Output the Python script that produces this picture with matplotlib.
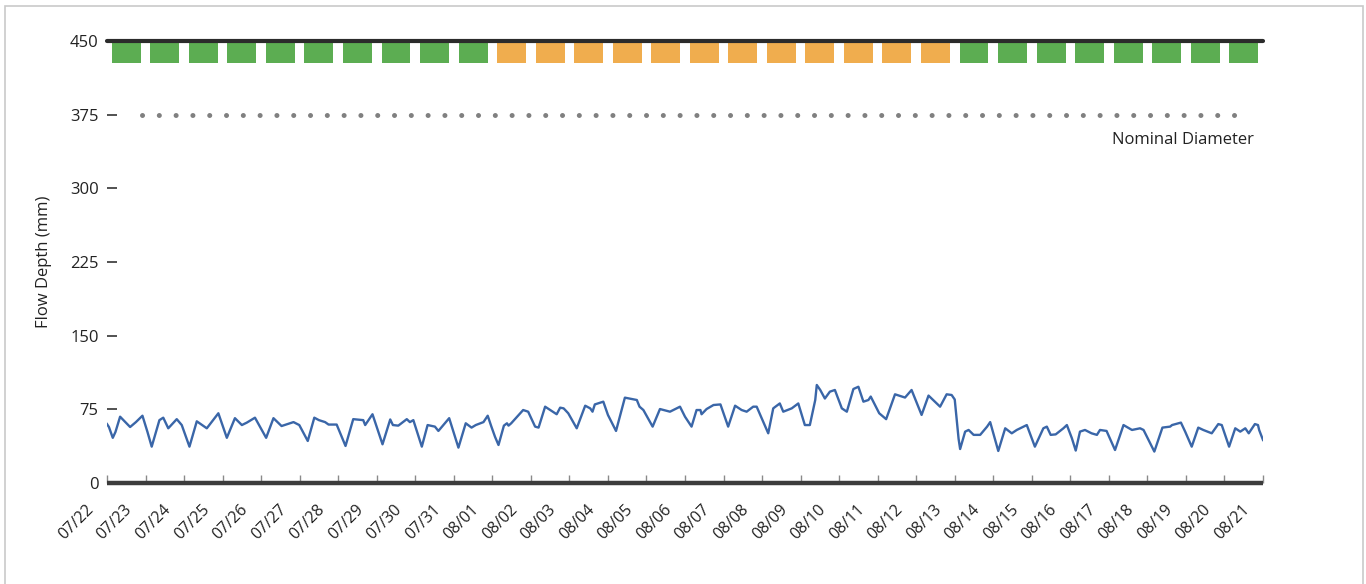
import matplotlib
matplotlib.use("Agg")
import matplotlib.pyplot as plt
import matplotlib.transforms as mtransforms
from matplotlib.patches import Rectangle
import numpy as np
import pandas as pd

plt.rcParams['font.family'] = ['Open Sans', 'DejaVu Sans']

# days since 07/22 00:00 and flow depth (mm)
t_days = [0.0, 0.05, 0.15, 0.22, 0.34, 0.45, 0.6, 0.75, 0.92, 1.05, 1.16, 1.36, 1.46, 1.59, 1.81, 1.94,
          2.14, 2.33, 2.59, 2.89, 3.11, 3.32, 3.5, 3.63, 3.84, 4.13, 4.32, 4.53, 4.84,
          4.99, 5.21, 5.38, 5.5, 5.66, 5.75, 5.96, 6.19, 6.39, 6.65, 6.7, 6.89, 7.15, 7.35, 7.42,
          7.56, 7.78, 7.86, 7.95, 8.17, 8.32, 8.51, 8.6, 8.88, 9.12, 9.31, 9.46, 9.57, 9.77, 9.88,
          9.97, 10.07, 10.16,
          10.30, 10.38, 10.42, 10.49, 10.80, 10.93, 11.11, 11.2, 11.37, 11.67, 11.76, 11.85, 11.97,
          12.19, 12.41, 12.54, 12.60, 12.66, 12.88, 13.0, 13.21, 13.44, 13.75, 13.82, 13.92, 14.16,
          14.35, 14.61, 14.87, 15.0, 15.17,
          15.30, 15.40, 15.43, 15.56, 15.74, 15.92, 16.12, 16.30, 16.47, 16.6, 16.77, 16.86, 17.16,
          17.29, 17.46, 17.55, 17.77, 17.94, 18.11, 18.24, 18.38, 18.42, 18.51, 18.63, 18.76, 18.89,
          19.07, 19.2, 19.37, 19.50, 19.63, 19.76, 19.82, 20.04, 20.22,
          20.45, 20.71, 20.88, 21.14, 21.32, 21.53, 21.62, 21.79, 21.92, 22.0, 22.1, 22.14, 22.27,
          22.36, 22.49, 22.66, 22.84, 22.92, 23.13, 23.31, 23.48, 23.61, 23.87, 24.08, 24.30, 24.39,
          24.49, 24.62, 24.82, 24.91, 25.04, 25.14,
          25.25, 25.38, 25.55, 25.69, 25.77, 25.94, 26.16, 26.38, 26.6, 26.81, 26.9, 27.18, 27.39,
          27.59, 27.64, 27.87, 27.98, 28.15, 28.32, 28.45, 28.67, 28.84, 28.93, 29.12, 29.28, 29.41,
          29.54, 29.63, 29.79, 29.87, 29.9, 30.0]
depth = [60, 57, 46, 52, 67.5, 63, 57, 62, 68.5, 52, 37, 64, 66.5, 55.7, 65, 59,
         37, 62.8, 55.7, 71, 46, 66, 59, 61.5, 66.5, 46, 66, 58, 62,
         59, 42.8, 66.5, 64, 62, 59.5, 59.5, 37.7, 65, 64, 59, 70, 39.4, 64.7, 59,
         58.4, 65, 62, 64, 37, 59, 57.4, 53, 66, 36, 60.8, 56.4, 59, 62, 68.5,
         58, 47, 38.7,
         58.4, 60.8, 58.4, 60.8, 74.3, 72.6, 57.4, 56.4, 77.7, 70, 76.7, 76, 71,
         55.7, 78.7, 76, 72.6, 80, 82.8, 69.3, 53, 86.9, 84.5, 77.7, 74.3, 57.4,
         75.3, 72.6, 77.7, 67.5, 57.4,
         74.3, 74.3, 70, 75.3, 79.4, 80, 57.4, 78.7, 74.3, 72.6, 77.7, 77.7, 50.6,
         76, 81, 72.6, 76, 81, 59, 59, 84.5, 99.8, 94.7, 86, 93, 94.7,
         76, 72.6, 95.7, 98, 82.8, 84.5, 88, 71, 65,
         90.3, 87, 94.7, 69.3, 89, 81, 77.7, 90.3, 89.6, 85, 45, 34.6, 52.3,
         54, 49, 49, 57.4, 62, 32.6, 55.7, 50.6, 54, 59, 37, 55.7, 57.4,
         49, 49.5, 55.7, 59, 45.6, 33,
         52.3, 54, 50.6, 49, 54, 53, 33.6, 59, 54, 55.7, 54, 32, 56.4,
         57.4, 59, 61.5, 52.3, 37, 56.4, 54, 50.6, 60, 59, 37, 55.7, 52.3,
         55.7, 50.6, 60, 59, 54, 43.8]

# daily status squares along the top
day_status = ['ok'] * 10 + ['warn'] * 12 + ['ok'] * 8
status_colors = {'ok': '#5cad52', 'warn': '#f0ad4e'}

nominal_diameter = 375
date_labels = list(pd.date_range('2019-07-22', '2019-08-21').strftime('%m/%d'))
y_ticks = [0, 75, 150, 225, 300, 375, 450]

fig = plt.figure(figsize=(13.66, 5.84), dpi=100)
ax = fig.add_axes([107 / 1366, 1 - 483 / 584, 1156 / 1366, 442 / 584])

# light frame round the whole picture
fig.patches.append(Rectangle((5 / 1366, -0.05), 1358 / 1366, 1.04, transform=fig.transFigure,
                             fill=False, edgecolor='#c9c9c9', linewidth=1.2))

ax.plot(t_days, depth, color='#3a66a8', linewidth=1.7, solid_joinstyle='round', zorder=4)

days = np.arange(len(day_status))
ax.bar(days + 0.5, 20.5, bottom=428, width=0.75,
       color=[status_colors[s] for s in day_status], zorder=3)

# nominal diameter as a row of dots
ax.plot([0.9, 29.6], [nominal_diameter, nominal_diameter], color='#808080',
        linewidth=3.6, linestyle=(0, (0.01, 3.35)), dash_capstyle='round', zorder=2)
ax.text(0.992, 0.776, 'Nominal Diameter', transform=ax.transAxes, ha='right', va='center',
        fontsize=12, color='#222222')

# thick lines at 0 and 450
ax.plot([0, 30], [450, 450], color='#2b2b2b', linewidth=3, solid_capstyle='round',
        clip_on=False, zorder=5)
ax.plot([0, 30], [0, 0], color='#3c3c3c', linewidth=3.2, solid_capstyle='butt',
        clip_on=False, zorder=5)

ax.set_xlim(0, 30)
ax.set_ylim(0, 450)
for s in ax.spines.values():
    s.set_visible(False)

ax.set_yticks(y_ticks)
ax.tick_params(axis='y', direction='in', length=7, width=1.2, color='#333333',
               pad=6, labelsize=12, labelcolor='#222222')
ax.set_xticks(range(len(date_labels)))
ax.set_xticklabels(date_labels, rotation=45, ha='right')
ax.tick_params(axis='x', direction='in', length=6, width=1, color='#8a8a8a',
               pad=13, labelsize=11.5, labelcolor='#222222')
offset = mtransforms.ScaledTranslation(-10 / 100, 0, fig.dpi_scale_trans)
for lab in ax.get_xticklabels():
    lab.set_transform(lab.get_transform() + offset)

ax.set_ylabel('Flow Depth (mm)', fontsize=12, color='#222222')
ax.yaxis.set_label_coords(-0.0476, 0.5)

fig.savefig('out.png', dpi=100, facecolor='white')
